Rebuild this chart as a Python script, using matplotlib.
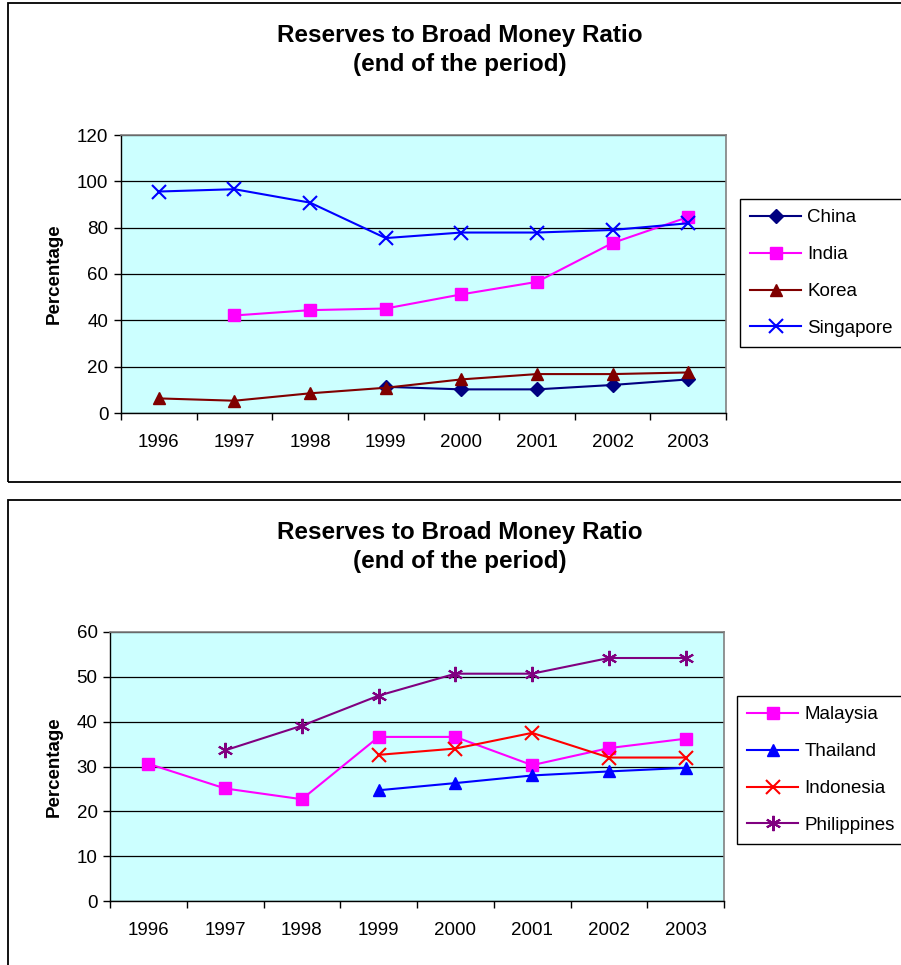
"""
Reserves to broad money ratio, two Excel-style line charts stacked.
"""

import numpy as np
import matplotlib.pyplot as plt
from matplotlib.patches import Rectangle

nan = np.nan

# data
years = ['1996', '1997', '1998', '1999', '2000', '2001', '2002', '2003']

china = [nan, nan, nan, 11.3, 10.2, 10.2, 12.1, 14.5]
india = [nan, 42.1, 44.4, 45.1, 51.2, 56.6, 73.4, 84.6]
korea = [6.3, 5.3, 8.5, 10.9, 14.5, 16.8, 16.8, 17.5]
singapore = [95.6, 96.6, 90.8, 75.5, 77.9, 77.9, 79.0, 81.9]

malaysia = [30.6, 25.1, 22.7, 36.6, 36.6, 30.3, 34.1, 36.2]
thailand = [nan, nan, nan, 24.7, 26.3, 28.0, 28.9, 29.7]
indonesia = [nan, nan, nan, 32.6, 34.0, 37.5, 32.0, 32.0]
philippines = [nan, 33.6, 39.1, 45.8, 50.7, 50.7, 54.2, 54.2]

title = 'Reserves to Broad Money Ratio\n(end of the period)'

plt.rcParams['font.family'] = ['Liberation Sans', 'DejaVu Sans']

W, H = 901, 965
FS = 13.5


def fx(px):
    return px / W


def fy(py):
    return 1 - py / H


def style_axes(ax, ymax, ystep):
    ax.set_facecolor('#CCFFFF')
    ax.set_xlim(-0.5, len(years) - 0.5)
    ax.set_ylim(0, ymax)
    ax.set_yticks(np.arange(0, ymax + 1, ystep))
    ax.yaxis.grid(True, color='black', linewidth=0.9)
    ax.set_axisbelow(True)
    # category axis: ticks between categories, labels centred
    ax.set_xticks(np.arange(-0.5, len(years), 1.0))
    ax.set_xticklabels([])
    ax.set_xticks(np.arange(len(years)), labels=years, minor=True)
    ax.tick_params(axis='x', which='minor', length=0, pad=15, labelsize=FS)
    ax.tick_params(axis='x', which='major', length=5, width=1, direction='out')
    ax.tick_params(axis='y', length=5, width=1, direction='out', pad=4, labelsize=FS)
    for side in ['top', 'right']:
        ax.spines[side].set_color('#808080')
        ax.spines[side].set_linewidth(1.2)
    for side in ['left', 'bottom']:
        ax.spines[side].set_color('black')
        ax.spines[side].set_linewidth(1.0)
    ax.set_ylabel('Percentage', fontsize=FS, fontweight='bold', labelpad=10)


def add_legend(ax, left, top):
    leg = fig.legend(*ax.get_legend_handles_labels(), loc='upper left',
                     bbox_to_anchor=(fx(left), fy(top)), borderaxespad=0, fontsize=FS,
                     frameon=True, fancybox=False, edgecolor='black', framealpha=1,
                     handlelength=2.7, labelspacing=1.05, handletextpad=0.35,
                     borderpad=0.55)
    leg.get_frame().set_linewidth(1.0)


fig = plt.figure(figsize=(W / 100, H / 100), dpi=100)

# outer chart frames
for top, bottom in [(3, 482), (500, 975)]:
    fig.patches.append(Rectangle((fx(8), fy(bottom)), fx(910) - fx(8), fy(top) - fy(bottom),
                                 transform=fig.transFigure, fill=False,
                                 edgecolor='black', linewidth=1.3))

x = np.arange(len(years))

# top chart
ax1 = fig.add_axes([fx(121), fy(413), fx(726) - fx(121), fy(135) - fy(413)])
style_axes(ax1, 120, 20)
ax1.plot(x, china, color='#000080', marker='D', markersize=7, lw=1.5, label='China')
ax1.plot(x, india, color='#FF00FF', marker='s', markersize=9, lw=1.5, label='India')
ax1.plot(x, korea, color='#800000', marker='^', markersize=9, lw=1.5, label='Korea')
ax1.plot(x, singapore, color='#0000FF', marker='x', markersize=10, mew=1.5, lw=1.5,
         label='Singapore')
fig.text(fx(460), fy(50), title, ha='center', va='center', fontsize=17.5,
         fontweight='bold', linespacing=1.35)
add_legend(ax1, 740, 199)

# bottom chart
ax2 = fig.add_axes([fx(110), fy(901), fx(724) - fx(110), fy(632) - fy(901)])
style_axes(ax2, 60, 10)
ax2.plot(x, malaysia, color='#FF00FF', marker='s', markersize=9, lw=1.5, label='Malaysia')
ax2.plot(x, thailand, color='#0000FF', marker='^', markersize=9, lw=1.5, label='Thailand')
ax2.plot(x, indonesia, color='#FF0000', marker='x', markersize=10, mew=1.5, lw=1.5,
         label='Indonesia')
ax2.plot(x, philippines, color='#800080', marker=(6, 2, 0), markersize=11, mew=1.5,
         lw=1.5, label='Philippines')
fig.text(fx(460), fy(547), title, ha='center', va='center', fontsize=17.5,
         fontweight='bold', linespacing=1.35)
add_legend(ax2, 737, 696)

fig.savefig('out.png', dpi=100)
